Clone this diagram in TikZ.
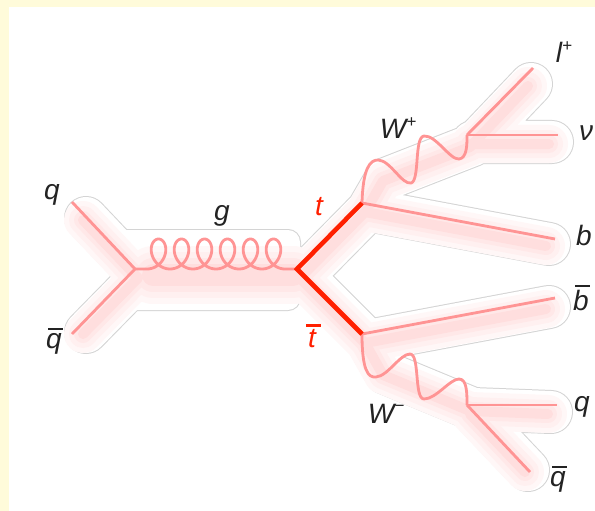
\documentclass[tikz,border=0pt]{standalone}
\usepackage{fontspec}
\setmainfont{Liberation Sans}
\definecolor{frameY}{RGB}{255,251,218}
\definecolor{lightline}{RGB}{255,148,148}
\definecolor{topred}{RGB}{255,32,0}
\definecolor{halogray}{RGB}{212,212,212}
\definecolor{labelgray}{RGB}{35,35,35}
\definecolor{glowA}{RGB}{255,247,247}
\definecolor{glowB}{RGB}{255,240,240}
\definecolor{glowC}{RGB}{255,232,232}
\definecolor{glowD}{RGB}{255,222,222}
\newcommand\ovl[1]{\leavevmode\setbox0\hbox{#1}\vbox{\offinterlineskip\hbox to \wd0{\hss\kern 3pt\vrule height 2.5pt depth 0pt width 15pt\hss}\kern 3pt\box0}}
\newcommand\supp[1]{\raisebox{0.42em}{\fontsize{17}{17}\selectfont #1}}
\begin{document}
\begin{tikzpicture}[x=1pt,y=-1pt,
  lbl/.style={font=\fontsize{28}{30}\selectfont\itshape, text=labelgray, inner sep=0pt},
  redlbl/.style={lbl, text=topred},
  ferm/.style={draw=lightline, line width=2.8pt, line join=round},
  topq/.style={draw=topred, line width=4.6pt, line join=miter},
  hpath/.style={insert path={(80,211) -- (135,269) -- (80,325)
      (297,269) -- (362,203) -- (543,237)
      (362,203) -- (380,172) -- (467,138) -- (525,77)
      (467,135) -- (546,135)
      (297,269) -- (362,334) -- (543,300)
      (362,334) -- (380,366) -- (467,402) -- (545,405)
      (467,405) -- (522,463)}},
  gpath/.style={insert path={(150,266) -- (290,266)}},
  halostroke/.style={line cap=round, line join=round}]

\useasboundingbox (0,0) rectangle (595,511);
\fill[frameY] (0,0) rectangle (595,511);
\fill[white] (9,7) rectangle (595,511);

% halo outline (union of soft regions)
\filldraw[fill=halogray, draw=halogray, line width=2pt, rounded corners=12pt] (113,230) rectangle (300,310);
\begin{scope}[shift={(6,7)}]
  \draw[halostroke, draw=halogray, line width=44pt] [hpath];
\end{scope}
\fill[white, rounded corners=12pt] (113,230) rectangle (300,310);
\begin{scope}[shift={(6,7)}]
  \draw[halostroke, draw=white, line width=42pt] [hpath];
\end{scope}

% pink glow
\begin{scope}[shift={(3,9)}]
  \draw[halostroke, draw=glowA, line width=38pt] [hpath];
  \draw[halostroke, draw=glowA, line width=58pt] [gpath];
  \draw[halostroke, draw=glowB, line width=28pt] [hpath];
  \draw[halostroke, draw=glowB, line width=46pt] [gpath];
  \draw[halostroke, draw=glowC, line width=18pt] [hpath];
  \draw[halostroke, draw=glowC, line width=34pt] [gpath];
  \draw[halostroke, draw=glowD, line width=10pt] [hpath];
  \draw[halostroke, draw=glowD, line width=22pt] [gpath];
\end{scope}

% vertices and end points
\coordinate (qs)  at (72,202);
\coordinate (qbs) at (72,334);
\coordinate (qv)  at (135,269);
\coordinate (tv)  at (297,269);
\coordinate (tt)  at (362,203);
\coordinate (tb)  at (362,334);
\coordinate (wp)  at (467,135);
\coordinate (lp)  at (533,68);
\coordinate (nu)  at (558,135);
\coordinate (be)  at (555,239);
\coordinate (bbe) at (555,298);
\coordinate (wm)  at (467,405);
\coordinate (q2)  at (557,405);
\coordinate (qb2) at (530,472);

% incoming quarks
\draw[ferm] (qs) -- (qv) -- (qbs);
% gluon
\draw[ferm] (qv) -- (147,269) -- plot[domain=0:2160, samples=300, variable=\t]
  ({147+\t/360*23+12.5*sin(\t)}, {269-15*(1-cos(\t))}) -- (tv);
% b quarks
\draw[ferm] (tt) -- (be);
\draw[ferm] (tb) -- (bbe);
% W+
\draw[ferm] (tt) .. controls (363,168) and (370,160) .. (378,160)
  .. controls (390,160) and (402,185) .. (411,183)
  .. controls (420,181) and (414,137) .. (424,136)
  .. controls (436,135) and (450,160) .. (459,159)
  .. controls (467,158) and (467,145) .. (wp);
\draw[ferm] (wp) -- (lp);
\draw[ferm] (wp) -- (nu);
% W-
\draw[ferm] (tb) .. controls (362,370) and (368,378) .. (376,377)
  .. controls (388,376) and (400,354) .. (410,354)
  .. controls (420,354) and (414,399) .. (424,399)
  .. controls (436,399) and (450,379) .. (459,379)
  .. controls (467,379) and (467,393) .. (wm);
\draw[ferm] (wm) -- (q2);
\draw[ferm] (wm) -- (qb2);
% top quarks
\draw[topq] (tt) -- (tv) -- (tb);

% labels
\node[lbl] (Lq)   at (52,195)  {q};
\node[lbl] (Lqb)  at (54,341)  {\ovl{q}};
\node[lbl] (Lg)   at (222,216) {g};
\node[redlbl] (Lt)  at (319,207) {t};
\node[redlbl] (Ltb) at (312,336) {\ovl{t}};
\node[lbl] (LWp)  at (398,128) {W\supp{+}};
\node[lbl] (Llp)  at (564,52)  {l\supp{+}};
\node[lbl] (Lnu)  at (586,133) {ν};
\node[lbl] (Lb)   at (584,235) {b};
\node[lbl] (Lbb)  at (581,298) {\ovl{b}};
\node[lbl] (LWm)  at (386,414) {W\supp{−}};
\node[lbl] (Lq2)  at (582,407) {q};
\node[lbl] (Lqb2) at (558,479) {\ovl{q}};
\end{tikzpicture}
\end{document}
